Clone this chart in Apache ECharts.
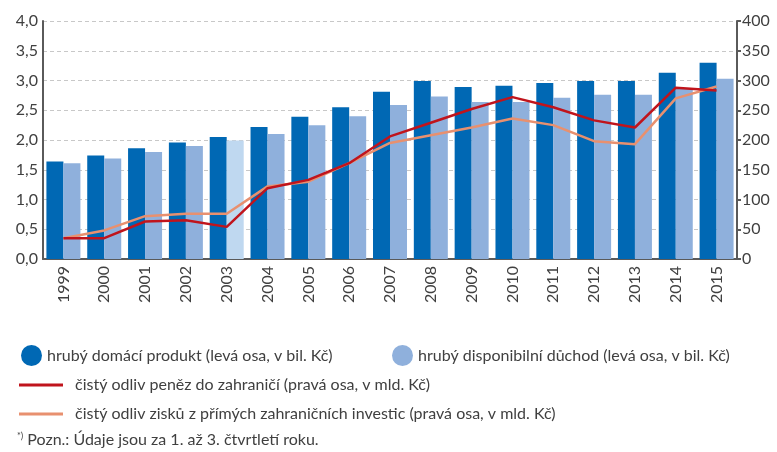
<!DOCTYPE html>
<html>
<head>
<meta charset="utf-8">
<script src="https://cdn.jsdelivr.net/npm/echarts@6/dist/echarts.min.js"></script>
<style>
  html, body { margin: 0; padding: 0; background: #fff; }
  #chart { width: 777px; height: 452px; }
</style>
</head>
<body>
<div id="chart"></div>
<script>
  const years = ['1999', '2000', '2001', '2002', '2003', '2004', '2005', '2006', '2007',
    '2008', '2009', '2010', '2011', '2012', '2013', '2014', '2015']

  // levá osa, bil. Kč
  const hdp = [1.64, 1.74, 1.86, 1.96, 2.05, 2.22, 2.39, 2.55, 2.81,
    2.99, 2.89, 2.91, 2.96, 2.99, 2.99, 3.13, 3.30]
  const hdd = [1.61, 1.69, 1.80, 1.90, 1.99, 2.10, 2.25, 2.40, 2.59,
    2.73, 2.64, 2.64, 2.71, 2.76, 2.76, 2.87, 3.03]

  // pravá osa, mld. Kč
  const odlivPenez = [35, 35, 63, 65, 54, 119, 133, 161, 206,
    229, 252, 272, 255, 233, 221, 288, 283]
  const odlivZisku = [35, 48, 72, 76, 76, 122, 130, 161, 195,
    208, 221, 236, 225, 198, 193, 270, 290]

  const leftTicks = ['0,0', '0,5', '1,0', '1,5', '2,0', '2,5', '3,0', '3,5', '4,0']

  const names = [
    'hrubý domácí produkt (levá osa, v bil. Kč)',
    'hrubý disponibilní důchod (levá osa, v bil. Kč)',
    'čistý odliv peněz do zahraničí (pravá osa, v mld. Kč)',
    'čistý odliv zisků z přímých zahraničních investic (pravá osa, v mld. Kč)'
  ]

  const FONT = 'Lato'
  const dark = '#0068b4'
  const light = '#8fb0dc'
  const axisColor = '#5a5a5a'
  const textColor = '#404040'

  const chart = echarts.init(document.getElementById('chart'))

  const legendText = {color: textColor, fontFamily: FONT, fontSize: 16}
  const lineText = {color: textColor, fontFamily: FONT, fontSize: 16, padding: [0, 0, 0, 7]}

  chart.setOption({
    animation: false,
    grid: {left: 43, right: 40, top: 21, bottom: 193},
    legend: [
      {
        data: [names[0]], left: 16, top: 340, icon: 'circle',
        itemWidth: 21, itemHeight: 21, textStyle: legendText
      },
      {
        data: [names[1]], left: 387, top: 340, icon: 'circle',
        itemWidth: 21, itemHeight: 21, textStyle: legendText
      },
      {
        data: [names[2]], left: 14, top: 372, icon: 'rect',
        itemWidth: 44, itemHeight: 3, textStyle: lineText
      },
      {
        data: [names[3]], left: 14, top: 401, icon: 'rect',
        itemWidth: 44, itemHeight: 3, textStyle: lineText
      }
    ],
    graphic: [{
      type: 'text', left: 17, top: 432,
      style: {
        text: '{sup|*)} Pozn.: Údaje jsou za 1. až 3. čtvrtletí roku.',
        fill: textColor, font: '16px ' + FONT,
        rich: {sup: {fontSize: 9, verticalAlign: 'top', padding: [0, 0, 7, 0], fill: textColor, fontFamily: FONT}}
      }
    }],
    xAxis: {
      type: 'category', data: years,
      axisLine: {lineStyle: {color: axisColor, width: 2}},
      axisTick: {show: false},
      axisLabel: {rotate: 90, color: textColor, fontFamily: FONT, fontSize: 16, margin: 7}
    },
    yAxis: [
      {
        type: 'value', min: 0, max: 4, interval: 0.5,
        axisLine: {show: true, lineStyle: {color: axisColor, width: 2}},
        axisTick: {show: false},
        axisLabel: {
          color: textColor, fontFamily: FONT, fontSize: 16, margin: 5,
          formatter: (v, i) => leftTicks[i]
        },
        splitLine: {lineStyle: {color: '#c8c8c8', type: [4, 3]}}
      },
      {
        type: 'value', min: 0, max: 400, interval: 50,
        axisLine: {show: true, lineStyle: {color: axisColor, width: 2}},
        axisTick: {show: true, length: 4, lineStyle: {color: axisColor, width: 2}},
        axisLabel: {color: textColor, fontFamily: FONT, fontSize: 16, margin: 5},
        splitLine: {show: false}
      }
    ],
    series: [
      {
        name: names[0], type: 'bar', data: hdp, barWidth: 17, barGap: '0%',
        itemStyle: {color: dark}
      },
      {
        name: names[1], type: 'bar', barWidth: 17,
        data: hdd.map((v, i) => years[i] === '2003' ? {value: v, itemStyle: {color: '#bfd8f0'}} : v),
        itemStyle: {color: light}
      },
      {
        name: names[2], type: 'line', yAxisIndex: 1, data: odlivPenez, z: 4,
        symbol: 'none', lineStyle: {color: '#c0141c', width: 2.5}, itemStyle: {color: '#c0141c'}
      },
      {
        name: names[3], type: 'line', yAxisIndex: 1, data: odlivZisku, z: 3,
        symbol: 'none', lineStyle: {color: '#e8906f', width: 2.5}, itemStyle: {color: '#e8906f'}
      }
    ]
  })
</script>
</body>
</html>
